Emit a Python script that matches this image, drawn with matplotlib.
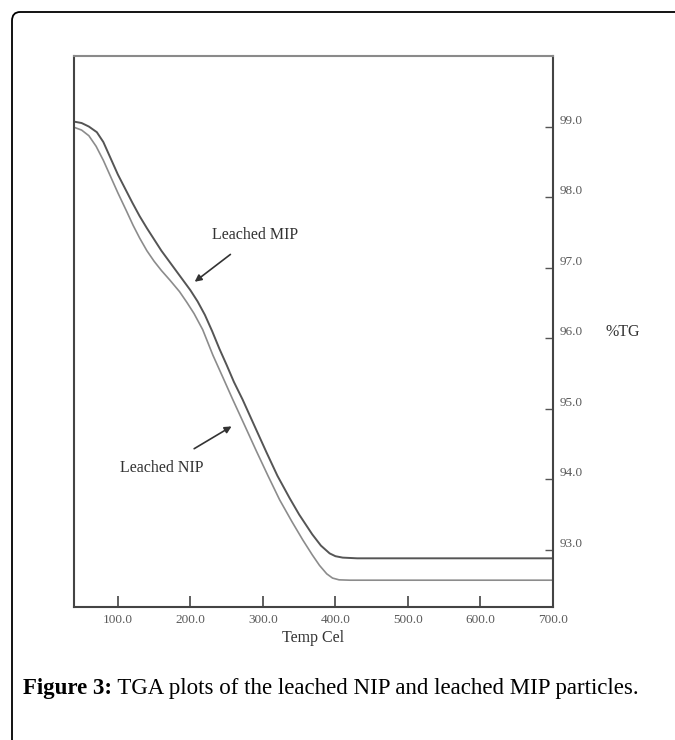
import numpy as np
import matplotlib
matplotlib.use('Agg')
import matplotlib.pyplot as plt
from matplotlib.patches import FancyBboxPatch

# TGA data (temperature in Celsius, weight %)
mip_temp = [39.5, 50, 60, 71, 80, 90, 100, 110, 120, 130, 140, 150, 160, 170, 180, 190, 200, 210, 220, 230,
            240, 250, 260, 272, 290, 305, 320, 337, 350, 368, 380, 392, 400, 410, 430, 700]
mip_tg = [99.07, 99.05, 99.00, 98.92, 98.78, 98.55, 98.32, 98.12, 97.92, 97.73, 97.56, 97.40, 97.24, 97.10,
          96.96, 96.82, 96.68, 96.52, 96.33, 96.10, 95.85, 95.62, 95.38, 95.13, 94.72, 94.38, 94.05, 93.73,
          93.50, 93.22, 93.06, 92.95, 92.91, 92.89, 92.88, 92.88]

nip_temp = [39.5, 50, 60, 70, 80, 90, 100, 112, 121, 130, 140, 150, 160, 172, 185, 195, 205, 217, 231, 245,
            258, 275, 291, 307, 323, 340, 355, 368, 378, 388, 396, 405, 420, 700]
nip_tg = [98.99, 98.95, 98.87, 98.72, 98.52, 98.29, 98.06, 97.80, 97.60, 97.42, 97.24, 97.09, 96.96, 96.82,
          96.66, 96.51, 96.35, 96.12, 95.76, 95.44, 95.14, 94.76, 94.40, 94.05, 93.71, 93.40, 93.14, 92.93,
          92.78, 92.66, 92.60, 92.575, 92.57, 92.57]

x_ticks = [100, 200, 300, 400, 500, 600, 700]
y_ticks = [93, 94, 95, 96, 97, 98, 99]

serif = ['Liberation Serif', 'DejaVu Serif']

fig = plt.figure(figsize=(6.75, 7.4), dpi=100)
W, H = 675, 740

# rounded frame around the figure
frame = FancyBboxPatch((12 / W, 1 - 760 / H), 700 / W, 748 / H,
                       boxstyle='round,pad=0,rounding_size=0.012',
                       transform=fig.transFigure, fill=False, ec='black', lw=1.3)
fig.patches.append(frame)

ax = fig.add_axes([74 / W, 1 - 607 / H, (553 - 74) / W, (607 - 56) / H])
ax.plot(mip_temp, mip_tg, color='#555555', lw=1.4)
ax.plot(nip_temp, nip_tg, color='#8c8c8c', lw=1.2)

ax.set_xlim(39.5, 700)
ax.set_ylim(92.19, 100.0)

for s in ax.spines.values():
    s.set_color('#444444')
    s.set_linewidth(1.5)
ax.spines['top'].set_color('#8a8a8a')

ax.set_xticks(x_ticks)
ax.set_xticklabels(['%.1f' % v for v in x_ticks], fontfamily=serif, fontsize=9.5, color='#5a5a5a')
ax.tick_params(axis='x', direction='in', length=8, width=1.2, color='#444444', pad=5)

ax.yaxis.tick_right()
ax.set_yticks(y_ticks)
ax.set_yticklabels(['%.1f' % v for v in y_ticks], fontfamily=serif, fontsize=9.5, color='#5a5a5a',
                   va='bottom')
ax.tick_params(axis='y', direction='in', length=6, width=1.0, color='#555555', pad=5)

ax.set_xlabel('Temp Cel', fontfamily=serif, fontsize=11.5, color='#333333', labelpad=3)

fig.text(605 / W, 1 - 332 / H, '%TG', fontfamily=serif, fontsize=11.5, color='#333333', va='center')

ax.annotate('Leached MIP', xy=(205.9, 96.80), xytext=(289.8, 97.46), textcoords='data',
            fontfamily=serif, fontsize=11.5, color='#333333', ha='center', va='center',
            arrowprops=dict(arrowstyle='-|>', color='#333333', lw=1.2, mutation_scale=10,
                            shrinkA=10, shrinkB=0))
ax.annotate('Leached NIP', xy=(256.8, 94.75), xytext=(160.5, 94.16), textcoords='data',
            fontfamily=serif, fontsize=11.5, color='#333333', ha='center', va='center',
            arrowprops=dict(arrowstyle='-|>', color='#333333', lw=1.2, mutation_scale=10,
                            shrinkA=12, shrinkB=0))

# caption: bold label followed by regular text
t1 = fig.text(23 / W, 1 - 699 / H, 'Figure 3:', fontfamily=serif, fontsize=16.5, fontweight='bold',
              va='bottom')
plt.annotate(' TGA plots of the leached NIP and leached MIP particles.', xy=(1, 0), xycoords=t1,
             fontfamily=serif, fontsize=16.5, va='bottom', ha='left')

fig.savefig('out.png', dpi=100)
